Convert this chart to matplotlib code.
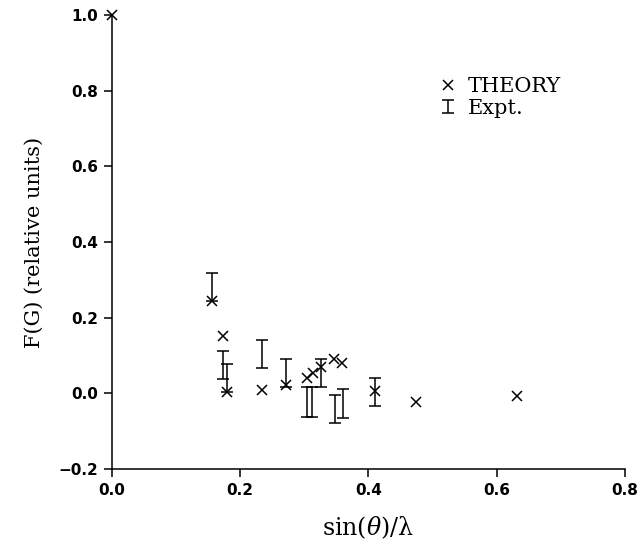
import numpy as np
import matplotlib.pyplot as plt
from matplotlib.legend_handler import HandlerErrorbar
from matplotlib.container import ErrorbarContainer

plt.rcParams['mathtext.fontset'] = 'dejavuserif'

# theory points (x markers)
theory_x = [0.0, 0.156, 0.174, 0.179, 0.234, 0.271, 0.304, 0.314, 0.326, 0.346, 0.359, 0.410, 0.474, 0.631]
theory_y = [1.0, 0.245, 0.152, 0.003, 0.009, 0.022, 0.040, 0.053, 0.069, 0.091, 0.081, 0.007, -0.022, -0.007]

# experiment (error bars only)
expt_x = [0.156, 0.174, 0.179, 0.235, 0.271, 0.326, 0.304, 0.312, 0.348, 0.361, 0.410]
expt_y = [0.281, 0.075, 0.041, 0.104, 0.054, 0.053, -0.023, -0.023, -0.042, -0.027, 0.004]
expt_err = [0.036, 0.038, 0.037, 0.037, 0.037, 0.037, 0.039, 0.039, 0.037, 0.038, 0.037]

xticks = [0.0, 0.2, 0.4, 0.6, 0.8]
yticks = [-0.2, 0.0, 0.2, 0.4, 0.6, 0.8, 1.0]

fig = plt.figure(figsize=(6.44, 5.5), dpi=100)
ax = fig.add_axes([0.1734, 0.1473, 0.7971, 0.8254])

ax.plot(theory_x, theory_y, 'x', color='black', markersize=7, markeredgewidth=1.1,
        clip_on=False, label='THEORY')
ax.errorbar(expt_x, expt_y, yerr=expt_err, fmt='none', ecolor='black', elinewidth=1.1,
            capsize=4.3, capthick=1.1, clip_on=False, label='Expt.')

fmt = plt.FuncFormatter(lambda v, p: '{:.1f}'.format(v).replace('-', '\u2212'))
ax.set_xlim(0.0, 0.8)
ax.set_ylim(-0.2, 1.0)
ax.set_xticks(xticks)
ax.set_yticks(yticks)
ax.xaxis.set_major_formatter(fmt)
ax.yaxis.set_major_formatter(fmt)
ax.spines['top'].set_visible(False)
ax.spines['right'].set_visible(False)
ax.spines['left'].set_linewidth(1.1)
ax.spines['bottom'].set_linewidth(1.1)
ax.tick_params(direction='out', length=6, width=1.1, labelsize=11, pad=4)
for lab in ax.get_xticklabels() + ax.get_yticklabels():
    lab.set_fontweight('bold')
    lab.set_family('DejaVu Sans')

ax.set_xlabel('sin($\\theta$)/\u03bb', family='DejaVu Serif', fontsize=17, labelpad=12)
ax.set_ylabel('F(G) (relative units)', family='DejaVu Serif', fontsize=15, labelpad=10)

leg = ax.legend(loc='upper left', bbox_to_anchor=(0.605, 0.905), frameon=False,
                prop={'family': 'DejaVu Serif', 'size': 15}, handlelength=0.7,
                handletextpad=0.6, labelspacing=0.15,
                handler_map={ErrorbarContainer: HandlerErrorbar(yerr_size=0.3)})

fig.savefig('out.png', dpi=100)
